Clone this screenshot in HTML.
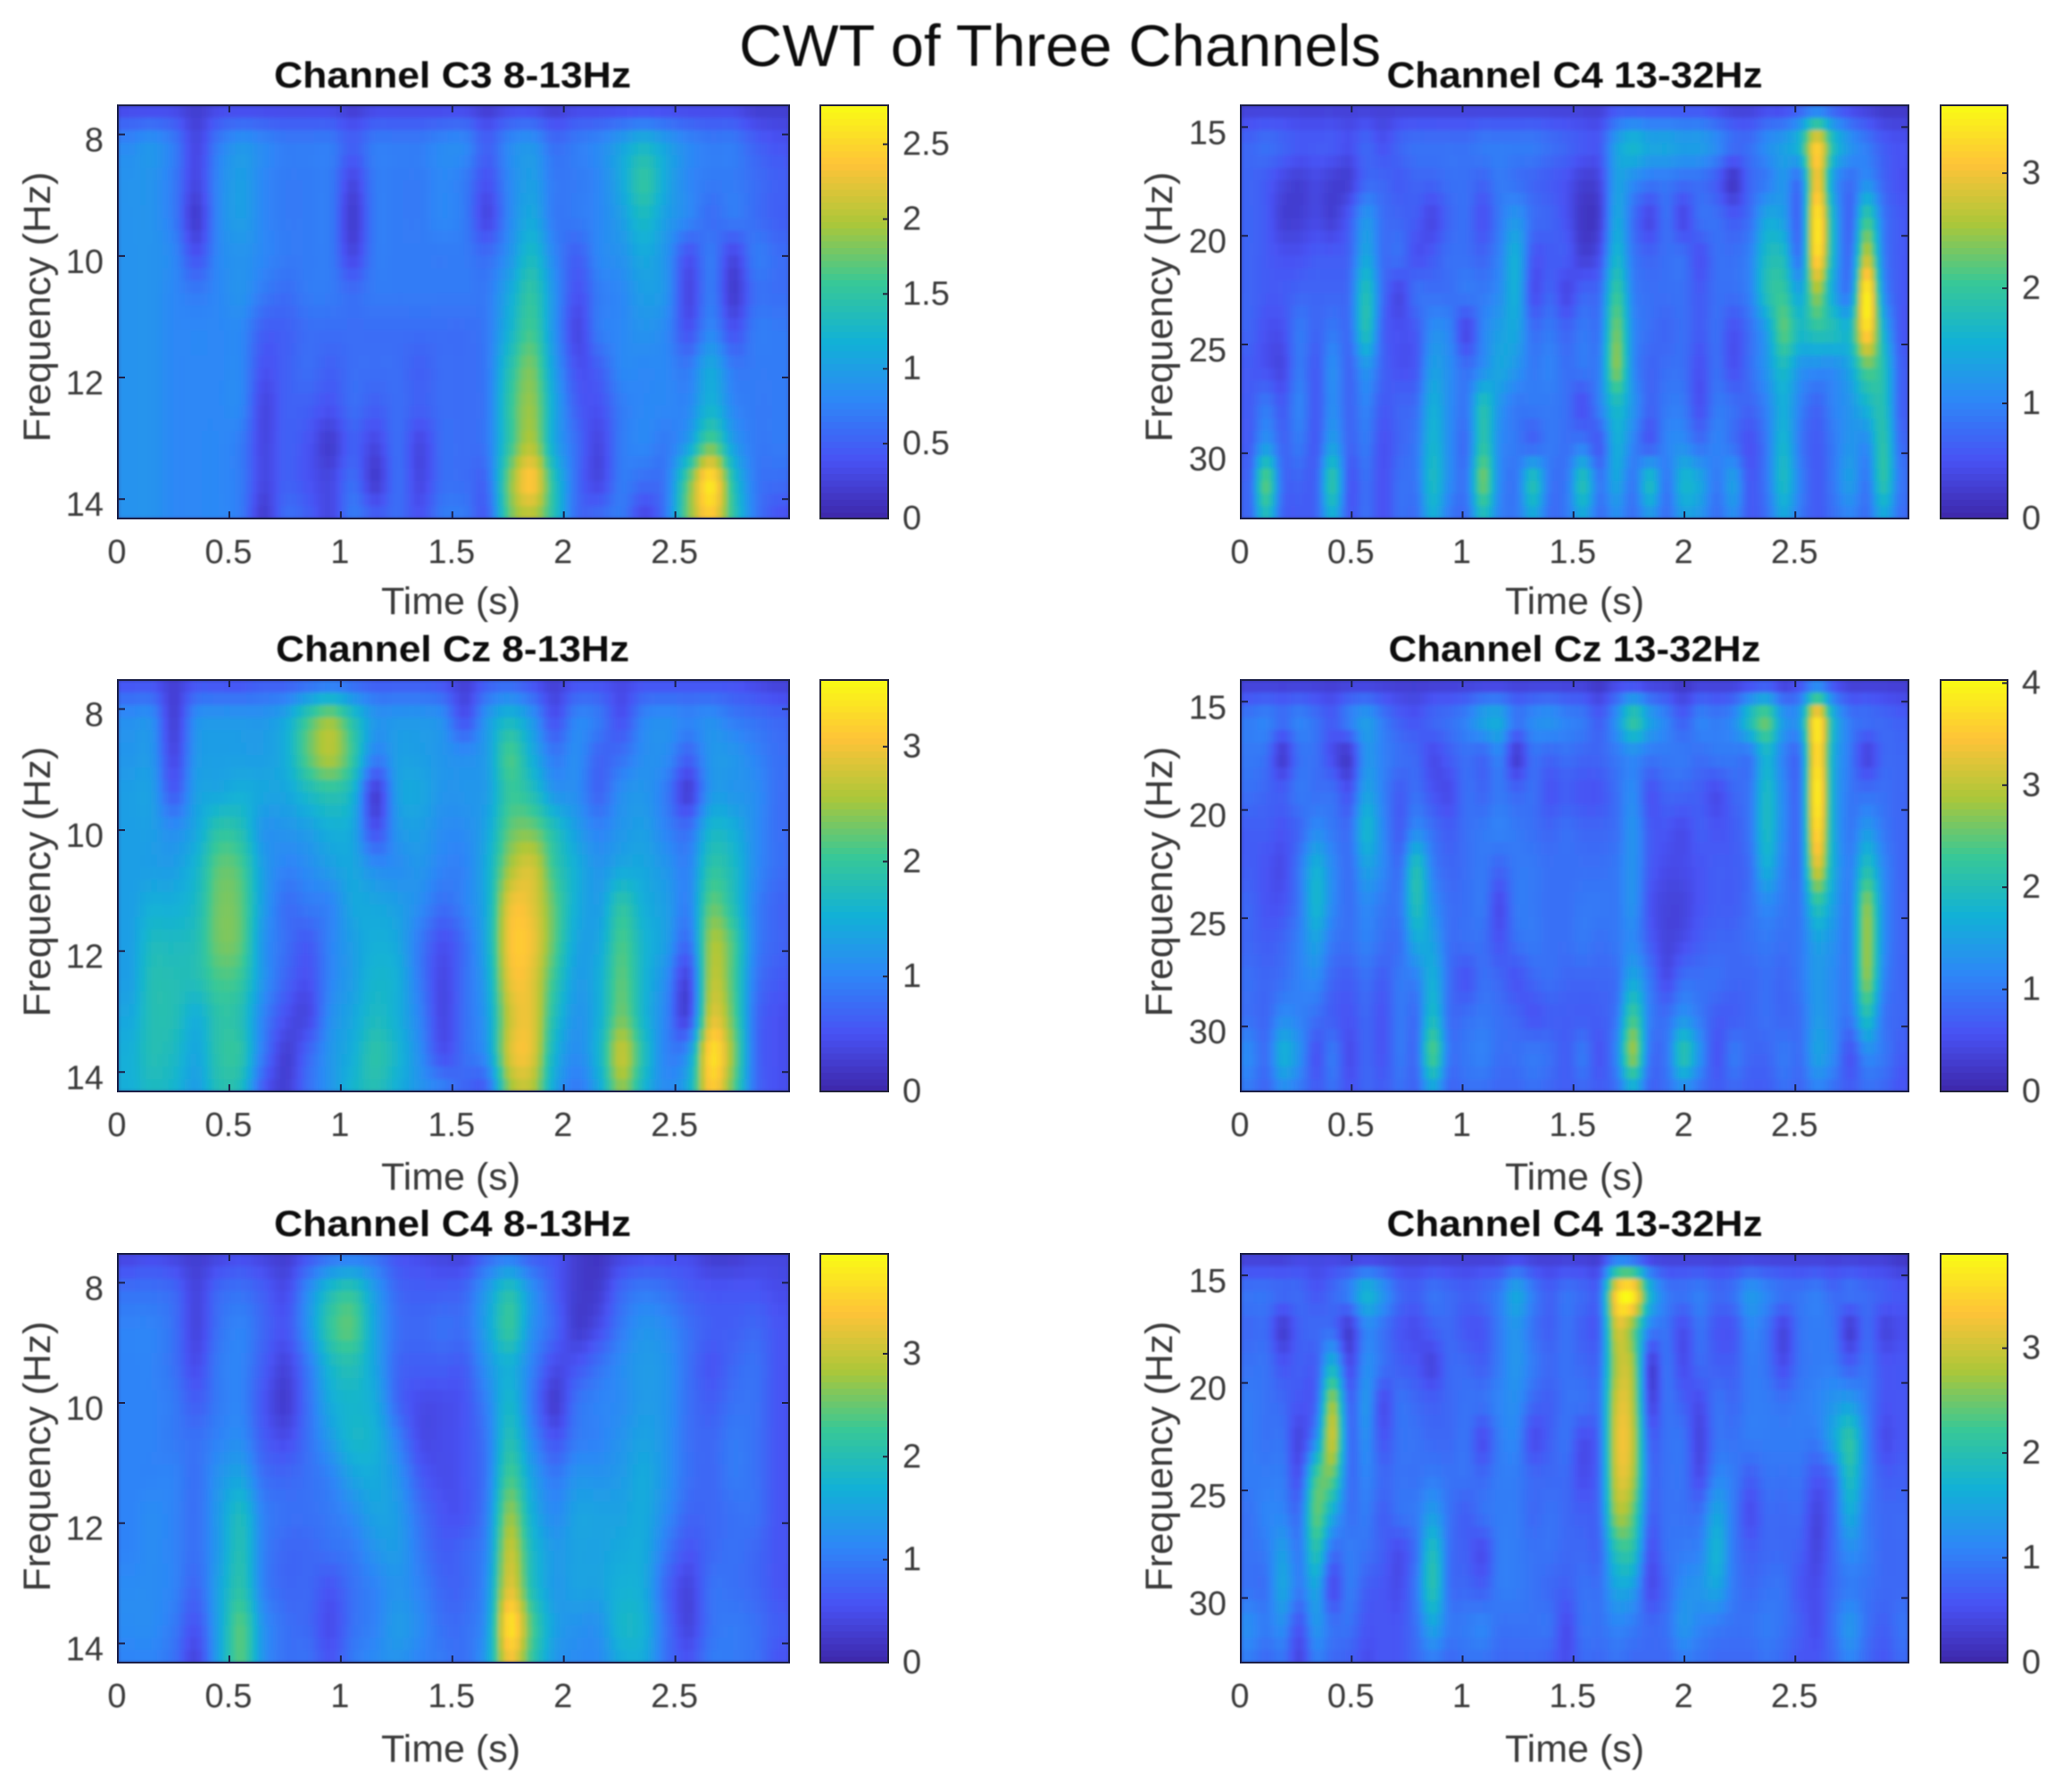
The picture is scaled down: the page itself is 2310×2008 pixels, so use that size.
<!DOCTYPE html>
<html lang="en">
<head>
<meta charset="utf-8">
<title>CWT of Three Channels</title>
<style>
html,body{margin:0;padding:0;background:#fff;}
#figure{display:block;width:2310px;height:2008px;background:#fff;}
text{font-family:"Liberation Sans",sans-serif;}
.tick{font-size:38px;fill:#3a3a3a;}
.axis-label{font-size:43px;fill:#3a3a3a;}
.panel-title{font-size:41px;font-weight:bold;fill:#0c0c0c;}
.main-title{font-size:66px;fill:#111;}
</style>
</head>
<body>
<svg id="figure" xmlns="http://www.w3.org/2000/svg" width="2310" height="2008" viewBox="0 0 2310 2008">
  <defs>
    <filter id="soft-image" x="-5%" y="-5%" width="110%" height="110%"><feGaussianBlur stdDeviation="2"/></filter>
    <filter id="soft-text" x="-5%" y="-5%" width="110%" height="110%"><feGaussianBlur stdDeviation="0.8"/></filter>
  </defs>
  <g id="plots"></g>
  <g id="labels" filter="url(#soft-text)">
    <text class="main-title" x="828" y="74" textLength="719" lengthAdjust="spacingAndGlyphs">CWT of Three Channels</text>

    <text class="panel-title" x="507" y="98" text-anchor="middle" textLength="400" lengthAdjust="spacingAndGlyphs">Channel C3 8-13Hz</text>
    <text class="panel-title" x="1764" y="98" text-anchor="middle" textLength="421" lengthAdjust="spacingAndGlyphs">Channel C4 13-32Hz</text>
    <text class="panel-title" x="507" y="741" text-anchor="middle" textLength="396" lengthAdjust="spacingAndGlyphs">Channel Cz 8-13Hz</text>
    <text class="panel-title" x="1764" y="741" text-anchor="middle" textLength="417" lengthAdjust="spacingAndGlyphs">Channel Cz 13-32Hz</text>
    <text class="panel-title" x="507" y="1385" text-anchor="middle" textLength="400" lengthAdjust="spacingAndGlyphs">Channel C4 8-13Hz</text>
    <text class="panel-title" x="1764" y="1385" text-anchor="middle" textLength="421" lengthAdjust="spacingAndGlyphs">Channel C4 13-32Hz</text>

    <text class="axis-label" x="505" y="688" text-anchor="middle">Time (s)</text>
    <text class="axis-label" x="1764" y="688" text-anchor="middle">Time (s)</text>
    <text class="axis-label" x="505" y="1333" text-anchor="middle">Time (s)</text>
    <text class="axis-label" x="1764" y="1333" text-anchor="middle">Time (s)</text>
    <text class="axis-label" x="505" y="1974" text-anchor="middle">Time (s)</text>
    <text class="axis-label" x="1764" y="1974" text-anchor="middle">Time (s)</text>

    <text class="axis-label" transform="translate(56,344) rotate(-90)" text-anchor="middle" textLength="303" lengthAdjust="spacingAndGlyphs">Frequency (Hz)</text>
    <text class="axis-label" transform="translate(1313,344) rotate(-90)" text-anchor="middle" textLength="303" lengthAdjust="spacingAndGlyphs">Frequency (Hz)</text>
    <text class="axis-label" transform="translate(56,988) rotate(-90)" text-anchor="middle" textLength="303" lengthAdjust="spacingAndGlyphs">Frequency (Hz)</text>
    <text class="axis-label" transform="translate(1313,988) rotate(-90)" text-anchor="middle" textLength="303" lengthAdjust="spacingAndGlyphs">Frequency (Hz)</text>
    <text class="axis-label" transform="translate(56,1632) rotate(-90)" text-anchor="middle" textLength="303" lengthAdjust="spacingAndGlyphs">Frequency (Hz)</text>
    <text class="axis-label" transform="translate(1313,1632) rotate(-90)" text-anchor="middle" textLength="303" lengthAdjust="spacingAndGlyphs">Frequency (Hz)</text>
  </g>
</svg>
<script>
// Tick labels
const timeTicks = [0, 0.5, 1, 1.5, 2, 2.5];
const alphaFreqTicks = [8, 10, 12, 14];
const betaFreqTicks = [15, 20, 25, 30];
const c3AlphaBarTicks = [0, 0.5, 1, 1.5, 2, 2.5];
const c4BetaTopBarTicks = [0, 1, 2, 3];
const czAlphaBarTicks = [0, 1, 2, 3];
const czBetaBarTicks = [0, 1, 2, 3, 4];
const c4AlphaBarTicks = [0, 1, 2, 3];
const c4BetaBottomBarTicks = [0, 1, 2, 3];

// Value ranges
const timeRange = [0, 3.01];
const alphaFreqRange = [7.52, 14.32];
const betaFreqRange = [14, 33];

// Heatmap magnitudes in tenths; rows run from low to high frequency, columns through time
const valueUnit = 0.1;
const c3AlphaValues = [
[3,3,3,2,3,3,3,3,3,3,2,3,3,3,3,3,2,3,3,2,3,3,3,3,3,3,3,3,2,2],
[8,9,7,3,7,9,8,7,7,7,5,7,7,7,8,8,5,8,9,6,7,8,10,12,10,8,7,7,5,4],
[9,9,7,3,8,10,8,7,7,7,3,7,7,7,8,7,4,8,10,7,7,8,11,15,11,8,7,7,6,5],
[9,9,7,2,8,10,8,7,7,7,2,7,7,7,8,7,3,8,11,7,7,8,10,13,10,8,6,7,6,5],
[9,9,8,4,8,9,8,7,7,7,3,7,7,7,7,7,6,9,13,8,5,8,9,11,9,4,7,3,7,6],
[9,9,8,7,8,9,7,6,7,7,6,7,7,7,7,7,7,11,15,9,4,7,8,10,9,3,7,2,6,6],
[9,9,8,8,8,8,5,5,6,6,6,6,6,6,6,6,7,12,16,9,3,7,8,9,8,4,8,4,7,7],
[9,9,8,8,8,8,4,5,6,5,6,6,6,5,6,6,7,14,18,10,4,5,8,8,8,7,11,7,7,7],
[9,9,8,8,8,8,3,5,5,4,6,5,6,5,6,6,7,15,19,11,5,4,7,8,8,8,12,8,7,7],
[9,9,8,8,8,7,3,5,4,2,5,3,6,3,6,6,7,15,20,11,6,3,7,8,7,10,17,10,7,7],
[9,9,8,8,8,7,3,5,4,3,6,2,6,3,6,6,6,18,24,14,6,3,7,6,7,17,26,14,7,6],
[9,9,8,8,8,7,2,6,5,3,7,5,6,4,7,7,5,17,20,14,6,6,7,3,7,18,24,15,7,4]
];
const czAlphaValues = [
[5,5,3,5,5,5,6,6,7,8,7,6,6,6,5,3,6,7,5,3,5,5,4,5,5,5,5,5,4,3],
[11,11,3,11,12,12,12,14,20,24,18,12,12,12,11,5,12,16,12,5,10,9,5,10,11,10,11,9,8,7],
[12,12,4,12,13,13,13,15,22,26,20,10,13,13,12,11,13,21,15,9,11,7,8,11,11,7,12,12,10,8],
[13,13,6,13,14,15,14,14,17,19,16,3,13,14,12,12,13,20,18,12,11,7,11,12,9,3,12,12,11,8],
[13,13,11,14,19,18,12,12,13,15,14,5,12,13,11,11,14,22,23,18,13,10,12,13,10,8,16,15,11,8],
[13,13,13,16,22,21,13,10,11,13,14,11,11,12,10,10,15,25,28,20,15,12,14,14,12,10,19,17,11,8],
[13,15,15,17,23,22,13,8,9,10,14,14,13,11,8,10,15,29,29,22,15,13,19,15,13,10,22,18,10,7],
[13,17,17,18,23,22,12,8,6,10,13,15,14,9,5,8,15,30,30,22,14,14,21,16,13,8,25,21,10,7],
[13,18,18,18,21,20,12,7,5,10,13,16,15,9,4,8,14,29,29,20,13,15,22,16,11,4,26,21,9,6],
[14,18,18,15,19,18,10,5,4,11,14,17,15,10,4,8,13,27,29,18,12,15,23,16,10,4,28,22,8,5],
[15,18,17,14,19,19,9,3,7,12,15,19,16,11,5,8,12,28,29,16,11,16,27,18,10,12,33,24,8,5],
[15,17,16,13,18,17,6,3,8,12,16,18,15,12,10,7,7,24,26,14,9,14,24,16,11,15,31,22,8,5]
];
const c4AlphaValues = [
[4,5,4,3,4,5,4,3,6,9,10,9,6,5,4,4,8,10,7,6,3,2,4,5,5,5,3,3,4,4],
[9,9,8,4,8,9,7,5,12,19,21,14,8,7,7,8,14,20,13,7,3,3,8,10,9,7,6,6,6,5],
[11,11,9,4,9,11,8,6,13,22,24,15,9,8,9,9,15,22,13,8,3,5,10,13,12,9,7,7,8,6],
[11,11,9,5,10,11,7,4,10,18,20,15,8,7,7,7,13,17,11,5,6,9,12,14,13,9,6,8,9,6],
[11,11,10,7,10,11,6,3,9,16,18,16,8,5,5,6,11,18,10,3,9,11,12,14,13,9,7,9,9,6],
[11,11,10,9,11,12,7,5,9,14,18,17,11,5,5,6,10,20,12,6,10,11,13,15,13,9,8,10,9,6],
[11,11,11,9,13,15,9,8,9,11,15,16,13,7,5,6,10,23,15,10,13,13,14,16,13,9,8,10,9,6],
[11,12,11,9,14,19,11,9,9,10,12,15,14,9,6,6,11,27,17,12,15,15,15,16,12,8,8,9,9,6],
[11,12,11,9,14,20,11,8,8,9,10,13,14,10,7,8,12,30,19,14,15,15,16,16,10,6,8,9,8,6],
[12,12,11,8,15,21,11,8,8,6,9,11,13,11,8,8,13,32,20,14,15,15,17,16,8,4,9,9,8,6],
[12,12,10,6,15,24,13,9,8,5,9,11,14,12,9,9,14,37,24,15,13,13,18,17,9,4,9,10,9,7],
[11,11,9,4,15,24,13,9,9,6,10,12,13,11,10,9,15,33,22,14,12,12,16,16,9,6,10,10,9,6]
];
const c4BetaTopValues = [
[3,3,3,3,3,3,3,3,3,3,3,3,3,3,3,3,3,3,3,3,3,3,5,5,5,5,5,5,4,3,3,4,4,6,8,6,4,3,2,2],
[7,8,7,6,6,6,5,7,5,7,8,8,8,8,9,9,9,9,8,7,6,6,13,16,14,14,13,13,11,8,8,11,13,17,31,18,12,9,6,5],
[7,6,4,3,4,3,3,7,7,6,7,7,8,8,7,9,8,7,6,5,3,4,13,11,9,9,8,8,6,2,7,9,12,9,30,13,8,11,7,5],
[7,6,3,3,4,3,6,12,8,7,6,4,7,8,5,9,12,8,7,5,2,3,14,8,4,8,4,8,8,6,8,14,13,8,34,16,7,20,9,6],
[7,6,5,5,6,6,7,14,8,8,5,6,8,8,7,10,15,6,6,6,3,5,16,9,7,8,8,5,8,8,10,17,17,9,33,16,8,27,10,6],
[7,6,6,7,7,7,8,18,8,4,8,8,8,9,9,11,15,5,7,4,7,8,20,10,8,8,8,6,8,8,10,18,20,14,25,14,10,35,12,6],
[7,5,5,9,7,9,8,18,7,5,6,11,10,4,10,13,14,8,9,7,9,9,23,11,8,7,8,6,8,5,8,13,22,17,19,18,17,33,16,6],
[6,5,4,9,6,11,7,12,7,5,6,13,11,8,11,14,12,9,10,8,9,10,24,11,7,8,8,5,8,5,8,12,17,12,11,11,14,22,18,7],
[6,9,6,10,6,11,7,10,6,7,8,15,11,9,18,12,9,9,9,8,5,10,17,12,7,9,9,5,9,8,7,10,15,10,7,10,12,16,18,7],
[6,12,7,9,6,13,7,9,5,7,9,16,11,8,19,11,9,7,9,8,9,6,15,10,6,10,11,8,10,8,5,9,16,9,6,9,12,11,19,8],
[7,22,8,7,7,19,6,8,5,8,9,17,11,9,23,11,9,18,9,9,18,9,14,9,17,9,16,14,9,13,6,9,17,10,6,9,13,9,19,9],
[7,17,7,6,7,15,6,8,5,8,8,15,9,8,17,10,9,14,8,9,14,8,11,8,12,8,13,12,8,11,6,8,14,9,6,8,10,8,14,8]
];
const czBetaValues = [
[3,3,3,3,3,3,3,3,3,3,3,3,3,3,3,3,3,3,3,3,3,2,4,4,3,3,2,3,3,3,4,5,3,5,9,5,3,3,3,3],
[10,11,9,11,9,7,11,14,10,7,6,8,9,11,15,16,10,12,13,11,10,7,13,22,15,11,7,11,10,12,20,25,14,15,37,18,10,9,8,7],
[10,9,3,9,9,5,3,13,11,9,8,5,7,9,8,11,3,9,8,9,8,8,10,12,10,10,10,9,10,10,10,18,11,10,37,17,10,4,8,8],
[9,8,7,10,9,9,6,15,11,7,9,6,5,9,8,10,8,9,6,7,6,6,9,12,6,8,8,7,5,8,10,19,12,10,39,17,10,9,9,8],
[7,7,6,8,12,10,9,18,12,7,12,9,7,9,10,11,10,9,8,9,8,8,9,13,7,6,5,7,6,7,10,19,12,10,37,17,10,14,10,8],
[7,6,5,10,17,12,9,15,12,9,20,11,8,9,10,8,10,10,9,9,9,9,10,13,7,5,5,6,7,7,9,17,11,10,32,17,11,20,12,8],
[8,6,6,10,18,12,9,12,10,10,20,13,9,9,10,5,10,10,9,9,10,10,10,13,6,4,4,6,7,7,9,12,10,10,21,15,11,27,13,8],
[8,7,8,11,15,10,9,11,9,9,16,15,9,9,9,6,9,10,9,9,10,9,10,12,7,4,5,7,8,8,9,10,9,10,15,13,11,28,13,8],
[9,8,9,11,12,8,7,9,7,10,11,17,9,6,9,8,6,8,9,8,8,8,9,16,10,5,9,9,9,8,8,9,8,10,14,12,11,27,12,8],
[9,8,12,11,9,7,6,8,6,10,9,19,9,9,10,9,8,6,7,7,7,7,10,23,11,9,13,10,7,7,8,9,8,9,14,12,10,20,10,8],
[12,9,17,13,6,10,5,8,6,10,9,24,10,10,11,9,9,10,9,7,10,6,12,28,10,10,21,13,6,10,8,8,10,9,15,12,6,12,10,7],
[10,8,12,10,7,9,6,8,7,9,8,15,8,9,9,8,8,9,8,7,8,7,9,16,8,9,12,9,7,8,7,7,9,8,11,9,7,9,8,6]
];
const c4BetaBottomValues = [
[3,3,3,4,4,4,3,3,3,3,3,3,3,3,3,3,4,3,3,3,3,3,8,6,3,3,3,3,3,3,3,3,3,3,3,3,3,3,3,2],
[9,9,8,8,6,8,11,17,13,8,7,9,8,7,8,10,15,10,7,9,8,9,34,37,18,10,9,10,8,9,13,11,9,9,10,8,9,8,7,6],
[8,8,3,7,8,8,3,11,9,6,5,7,8,6,6,10,13,9,7,9,7,8,30,25,11,9,5,9,6,6,11,9,4,9,10,9,3,8,4,5],
[9,9,6,7,7,17,5,12,9,7,6,4,8,8,7,10,13,10,8,9,8,9,28,27,4,9,5,8,7,7,10,9,5,9,10,10,7,9,6,6],
[10,9,8,6,8,27,8,13,5,9,8,7,8,9,9,11,12,8,7,9,9,10,30,28,5,9,7,5,9,8,10,10,9,10,11,13,14,10,6,6],
[10,9,9,4,12,30,9,12,6,9,9,8,8,9,5,10,11,5,7,9,5,9,31,29,8,9,9,4,9,9,10,10,10,10,10,15,21,11,5,6],
[10,10,10,6,22,24,9,11,8,9,9,10,9,9,8,10,10,8,8,8,5,9,30,28,9,9,9,5,11,10,7,9,9,9,6,9,19,11,7,7],
[9,11,11,9,24,16,9,10,7,9,10,14,9,7,9,10,10,8,9,8,7,9,27,24,8,9,9,9,15,10,5,8,8,8,4,8,16,10,8,8],
[9,10,14,10,20,9,10,9,7,5,9,19,9,7,5,10,10,9,9,8,8,8,20,20,6,9,10,11,17,10,7,8,8,7,4,8,12,10,8,8],
[9,9,15,10,15,5,10,7,6,5,10,20,9,8,7,10,10,9,8,7,9,9,15,14,5,8,12,13,15,10,8,9,9,6,5,8,10,9,8,8],
[12,10,12,6,13,9,9,6,6,6,9,15,10,10,11,9,9,9,9,5,9,9,11,10,8,9,13,11,10,9,9,10,9,7,5,9,13,9,7,9],
[10,8,9,4,10,8,7,5,6,6,8,10,8,9,9,8,8,8,7,5,8,8,9,8,8,8,10,9,8,8,8,9,8,6,6,8,11,8,6,8]
];

// Colour limits of each colorbar
const c3AlphaLimit = 2.76;
const c4BetaTopLimit = 3.59;
const czAlphaLimit = 3.58;
const czBetaLimit = 4.03;
const c4AlphaLimit = 3.97;
const c4BetaBottomLimit = 3.9;

// Parula colormap anchors
const parulaStops = [
  [0.2422,0.1504,0.6603],[0.2810,0.3228,0.9579],[0.1786,0.5289,0.9682],[0.0689,0.6948,0.8394],
  [0.2161,0.7843,0.5923],[0.6720,0.7793,0.2227],[0.9970,0.7659,0.2199],[0.9769,0.9839,0.0805]
];
function parula(f){
  const u = Math.max(0, Math.min(1, f)) * (parulaStops.length - 1);
  const i = Math.min(parulaStops.length - 2, Math.floor(u));
  const k = u - i;
  const c = [0,1,2].map(function(n){
    return Math.round(255 * (parulaStops[i][n] + (parulaStops[i+1][n] - parulaStops[i][n]) * k));
  });
  return 'rgb(' + c[0] + ',' + c[1] + ',' + c[2] + ')';
}

const NS = 'http://www.w3.org/2000/svg';
const plots = document.getElementById('plots');
const labels = document.getElementById('labels');

function make(tag, attrs, parent){
  const el = document.createElementNS(NS, tag);
  for (const k in attrs) el.setAttribute(k, attrs[k]);
  parent.appendChild(el);
  return el;
}
function cubic(a, b, c, d, k){
  return b + 0.5 * k * (c - a + k * (2*a - 5*b + 4*c - d + k * (3*(b - c) + d - a)));
}
function sampleRow(row, colPos){
  const n = row.length;
  const c = Math.max(0, Math.min(n - 1, Math.floor(colPos)));
  const k = Math.max(0, Math.min(1, colPos - c));
  const at = function(i){ return row[Math.max(0, Math.min(n - 1, i))]; };
  return cubic(at(c - 1), at(c), at(c + 1), at(c + 2), k);
}
function sampleGrid(grid, rowPos, colPos){
  const n = grid.length;
  const r = Math.max(0, Math.min(n - 1, Math.floor(rowPos)));
  const k = Math.max(0, Math.min(1, rowPos - r));
  const at = function(i){ return sampleRow(grid[Math.max(0, Math.min(n - 1, i))], colPos); };
  return Math.max(0, cubic(at(r - 1), at(r), at(r + 1), at(r + 2), k)) * valueUnit;
}

function drawPanel(p){
  const xScale = function(t){ return p.left + (t - timeRange[0]) / (timeRange[1] - timeRange[0]) * p.width; };
  const yScale = function(f){ return p.top + (f - p.freqRange[0]) / (p.freqRange[1] - p.freqRange[0]) * p.height; };
  const colorScale = function(v){ return parula(v / p.limit); };
  const barScale = function(v){ return p.top + p.height - v / p.limit * p.height; };

  const clipId = 'clip-' + p.name;
  const clip = make('clipPath', {id: clipId}, plots);
  make('rect', {x: p.left, y: p.top, width: p.width, height: p.height}, clip);

  const holder = make('g', {'clip-path': 'url(#' + clipId + ')'}, plots);
  
  
  make('rect', {x: p.left - 10, y: p.top - 10, width: p.width + 20, height: p.height + 20, fill: '#2c2a80'}, holder);
  const image = make('g', {filter: 'url(#soft-image)', 'shape-rendering': 'crispEdges'}, holder);

  const rows = p.values.length, cols = p.values[0].length;
  const ny = (rows - 1) * 3, nx = cols * 4;
  const dt = (timeRange[1] - timeRange[0]) / nx;
  const df = (p.freqRange[1] - p.freqRange[0]) / ny;
  for (let iy = 0; iy < ny; iy++){
    const freq = p.freqRange[0] + iy * df;
    const rowPos = (iy + 0.5) / ny * (rows - 1);
    for (let ix = 0; ix < nx; ix++){
      const time = timeRange[0] + ix * dt;
      const colPos = (ix + 0.5) / nx * cols - 0.5;
      const v = sampleGrid(p.values, rowPos, colPos);
      const cell = make('rect', {
        x: xScale(time).toFixed(1), y: yScale(freq).toFixed(1),
        width: (xScale(time + dt) - xScale(time) + 0.7).toFixed(1),
        height: (yScale(freq + df) - yScale(freq) + 0.7).toFixed(1),
        fill: colorScale(v)
      }, image);
      
      
    }
  }

  const frame = make('rect', {x: p.left, y: p.top, width: p.width, height: p.height, fill: 'none', stroke: '#1c2048', 'stroke-width': 2}, plots);
  
  

  timeTicks.forEach(function(t){
    const x = xScale(t);
    const m = make('path', {d: 'M' + x + ' ' + (p.top + p.height) + 'v-8M' + x + ' ' + p.top + 'v8', stroke: '#1c2048', 'stroke-width': 2, fill: 'none'}, plots);
    
    
    const l = make('text', {class: 'tick', x: x - 1, y: p.top + p.height + 50, 'text-anchor': 'middle'}, labels);
    l.textContent = String(t);
    
    
  });
  p.freqTicks.forEach(function(f){
    const y = yScale(f);
    const m = make('path', {d: 'M' + p.left + ' ' + y + 'h8M' + (p.left + p.width) + ' ' + y + 'h-8', stroke: '#1c2048', 'stroke-width': 2, fill: 'none'}, plots);
    
    
    const l = make('text', {class: 'tick', x: p.left - 16, y: y + 19, 'text-anchor': 'end'}, labels);
    l.textContent = String(f);
    
    
  });

  const bar = make('g', {'shape-rendering': 'crispEdges'}, plots);
  
  
  const levels = 64;
  for (let i = 0; i < levels; i++){
    const lowVal = i / levels * p.limit;
    const highVal = (i + 1) / levels * p.limit;
    const seg = make('rect', {
      x: p.barLeft, y: barScale(highVal).toFixed(1), width: p.barWidth,
      height: (barScale(lowVal) - barScale(highVal) + 0.7).toFixed(1),
      fill: colorScale((lowVal + highVal) / 2)
    }, bar);
    
    
  }
  const barFrame = make('rect', {x: p.barLeft, y: p.top, width: p.barWidth, height: p.height, fill: 'none', stroke: '#23233a', 'stroke-width': 2}, plots);
  
  
  p.barTicks.forEach(function(v){
    const y = barScale(v);
    const m = make('path', {d: 'M' + (p.barLeft + p.barWidth) + ' ' + y + 'h-6', stroke: '#23233a', 'stroke-width': 2, fill: 'none'}, plots);
    
    
    const l = make('text', {class: 'tick', x: p.barLeft + p.barWidth + 16, y: y + 12}, labels);
    l.textContent = String(v);
    
    
  });
}

const leftCol = {left: 132, width: 752, barLeft: 919, barWidth: 76, freqRange: alphaFreqRange, freqTicks: alphaFreqTicks};
const rightCol = {left: 1390, width: 748, barLeft: 2174, barWidth: 75, freqRange: betaFreqRange, freqTicks: betaFreqTicks};

drawPanel(Object.assign({}, leftCol, {name: 'c3-alpha', top: 118, height: 463, values: c3AlphaValues, limit: c3AlphaLimit, barTicks: c3AlphaBarTicks}));
drawPanel(Object.assign({}, rightCol, {name: 'c4-beta-top', top: 118, height: 463, values: c4BetaTopValues, limit: c4BetaTopLimit, barTicks: c4BetaTopBarTicks}));
drawPanel(Object.assign({}, leftCol, {name: 'cz-alpha', top: 762, height: 461, values: czAlphaValues, limit: czAlphaLimit, barTicks: czAlphaBarTicks}));
drawPanel(Object.assign({}, rightCol, {name: 'cz-beta', top: 762, height: 461, values: czBetaValues, limit: czBetaLimit, barTicks: czBetaBarTicks}));
drawPanel(Object.assign({}, leftCol, {name: 'c4-alpha', top: 1405, height: 458, values: c4AlphaValues, limit: c4AlphaLimit, barTicks: c4AlphaBarTicks}));
drawPanel(Object.assign({}, rightCol, {name: 'c4-beta-bottom', top: 1405, height: 458, values: c4BetaBottomValues, limit: c4BetaBottomLimit, barTicks: c4BetaBottomBarTicks}));
</script>
</body>
</html>
